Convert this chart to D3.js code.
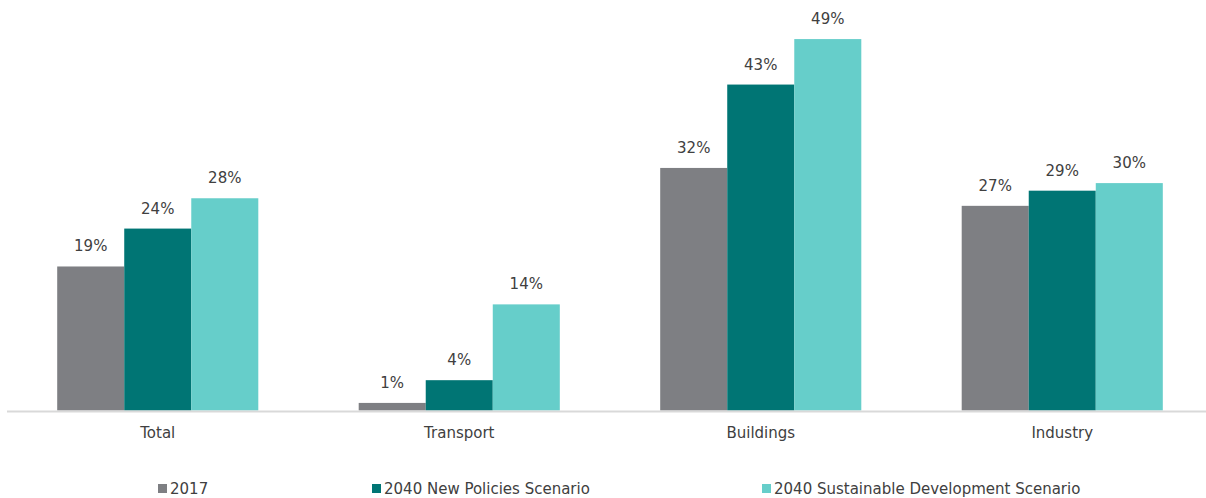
<!DOCTYPE html>
<html>
<head>
<meta charset="utf-8">
<script src="https://cdn.jsdelivr.net/npm/d3@7"></script>
<style>
  html, body { margin: 0; padding: 0; background: #ffffff; }
  svg { display: block; font-family: "DejaVu Sans", sans-serif; }
</style>
</head>
<body>
<svg id="chart" width="1206" height="498"></svg>
<script>
// Share of electricity in final energy consumption by sector
const categories = ["Total", "Transport", "Buildings", "Industry"];
const seriesNames = ["2017", "2040 New Policies Scenario", "2040 Sustainable Development Scenario"];
const values2017 = [19, 1, 32, 27];
const valuesNPS = [24, 4, 43, 29];
const valuesSDS = [28, 14, 49, 30];
const seriesColors = ["#7e7f83", "#007574", "#66ceca"];

const fontFamily = "'DejaVu Sans', sans-serif";
const textColor = "#404040";
const fontSize = 15;

const seriesValues = [values2017, valuesNPS, valuesSDS];
const rows = categories.map((c, i) => ({
  category: c,
  values: seriesNames.map((s, j) => ({ series: s, index: j, value: seriesValues[j][i] }))
}));

const svg = d3.select("#chart");
const baseline = 410.5;

const x0 = d3.scaleBand().domain(categories).range([7, 1213]).paddingInner(0.333).paddingOuter(0.1665);
const x1 = d3.scaleBand().domain(seriesNames).range([0, x0.bandwidth()]);
const y = d3.scaleLinear().domain([0, 50]).range([baseline, baseline - 50 * 7.58]);

const groups = svg.append("g").selectAll("g")
  .data(rows).join("g")
  .attr("transform", d => `translate(${x0(d.category)},0)`);

groups.selectAll("rect")
  .data(d => d.values).join("rect")
  .attr("x", d => x1(d.series))
  .attr("width", x1.bandwidth())
  .attr("y", d => y(d.value))
  .attr("height", d => y(0) - y(d.value))
  .attr("fill", d => seriesColors[d.index]);

groups.selectAll("text.value")
  .data(d => d.values).join("text")
  .attr("class", "value")
  .attr("x", d => x1(d.series) + x1.bandwidth() / 2)
  .attr("y", d => y(d.value) - 15)
  .attr("text-anchor", "middle")
  .attr("font-size", fontSize)
  .attr("fill", textColor)
  .text(d => d.value + "%");

// category axis
const xAxis = svg.append("g")
  .attr("transform", `translate(0,${baseline})`)
  .call(d3.axisBottom(x0).tickSize(0).tickPadding(17));
xAxis.select(".domain").attr("stroke", "#d9d9d9").attr("stroke-width", 2).attr("d", "M7,1H1213");
xAxis.selectAll("text").attr("font-size", fontSize).attr("fill", textColor).attr("font-family", fontFamily);

// legend
const legendX = [158, 372, 762];
const legend = svg.append("g").selectAll("g")
  .data(seriesNames).join("g")
  .attr("transform", (d, i) => `translate(${legendX[i]},484)`);
legend.append("rect").attr("width", 9).attr("height", 9).attr("fill", (d, i) => seriesColors[i]);
legend.append("text")
  .attr("x", 12).attr("y", 10)
  .attr("font-size", fontSize).attr("fill", textColor)
  .text(d => d);
</script>
</body>
</html>
